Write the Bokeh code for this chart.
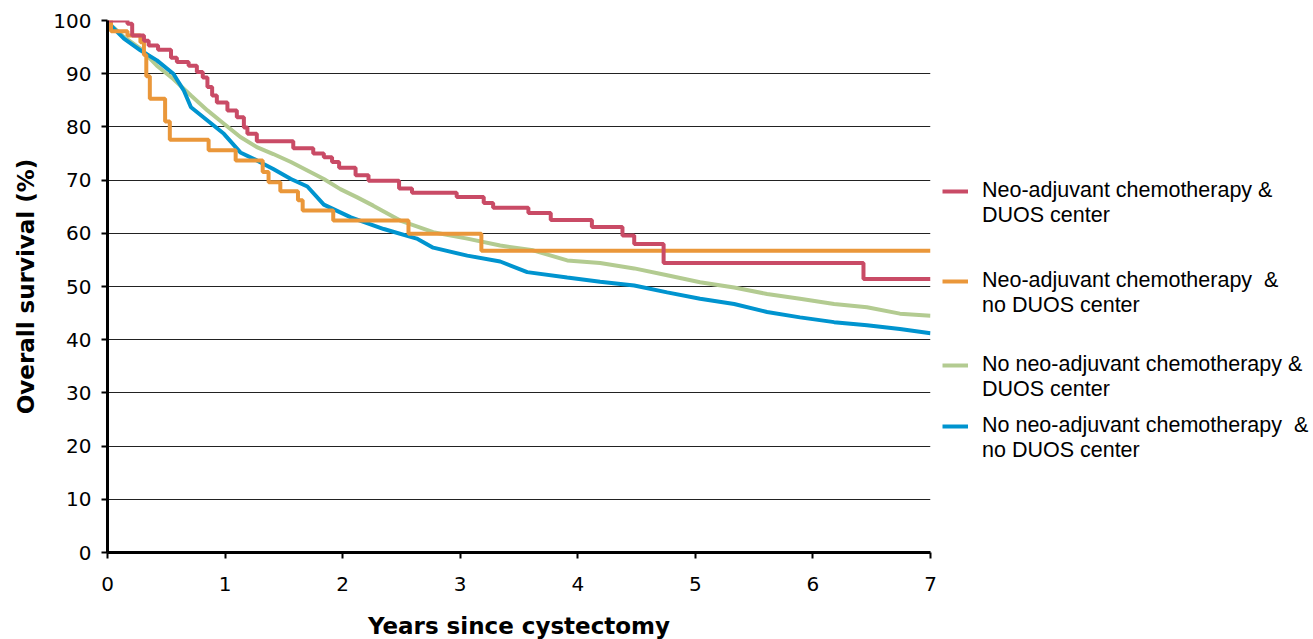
from bokeh.plotting import figure
from bokeh.layouts import row
from bokeh.models import Legend, LegendItem, Range1d, FixedTicker
from bokeh.embed import file_html
from bokeh.resources import INLINE

# ---------------- data ----------------
red_t = [0, 0.17, 0.21, 0.31, 0.35, 0.43, 0.54, 0.59, 0.69, 0.76, 0.81, 0.85, 0.89, 0.93,
         1.02, 1.10, 1.16, 1.19, 1.27, 1.58, 1.75, 1.84, 1.91, 1.97, 2.11, 2.22, 2.48, 2.59,
         2.97, 3.20, 3.28, 3.58, 3.77, 4.12, 4.38, 4.48, 4.73, 6.43, 7.0]
red_v = [100, 99.4, 97.2, 96.2, 95.3, 94.5, 93.0, 92.2, 91.5, 90.3, 89.3, 87.5, 85.9, 84.6,
         83.1, 81.8, 79.9, 78.7, 77.3, 76.0, 75.0, 74.3, 73.4, 72.3, 70.9, 69.9, 68.4, 67.6,
         66.8, 65.7, 64.8, 63.8, 62.5, 61.2, 59.6, 58.0, 54.4, 51.4, 51.4]

orange_t = [0, 0.03, 0.17, 0.28, 0.31, 0.33, 0.36, 0.49, 0.53, 0.86, 1.09, 1.32, 1.37, 1.47,
            1.62, 1.66, 1.92, 2.56, 3.18, 7.0]
orange_v = [100, 98.0, 97.2, 95.9, 93.5, 89.5, 85.3, 81.0, 77.6, 75.6, 73.7, 71.5, 69.6, 67.9,
            66.2, 64.3, 62.4, 59.9, 56.7, 56.7]

green_t = [0, 0.14, 0.28, 0.42, 0.56, 0.71, 0.85, 0.99, 1.13, 1.27, 1.41, 1.56, 1.70, 1.84,
           1.98, 2.12, 2.26, 2.49, 2.77, 3.06, 3.34, 3.62, 3.91, 4.19, 4.48, 4.76, 5.04, 5.33,
           5.61, 5.89, 6.18, 6.46, 6.74, 7.0]
green_v = [99.7, 96.9, 94.7, 91.5, 89.0, 85.9, 83.1, 80.6, 78.1, 76.2, 74.9, 73.4, 71.8, 70.2,
           68.3, 66.8, 65.2, 62.4, 60.2, 59.0, 57.7, 56.8, 54.9, 54.4, 53.4, 52.1, 50.8, 49.8,
           48.6, 47.7, 46.7, 46.1, 44.9, 44.5]

blue_t = [0, 0.14, 0.28, 0.42, 0.56, 0.65, 0.71, 0.85, 0.99, 1.13, 1.27, 1.41, 1.56, 1.70,
          1.84, 2.07, 2.35, 2.63, 2.77, 3.06, 3.34, 3.57, 3.91, 4.19, 4.48, 4.76, 5.04, 5.33,
          5.61, 5.89, 6.18, 6.46, 6.74, 7.0]
blue_v = [99.7, 96.6, 94.4, 92.5, 90.0, 86.8, 83.7, 81.2, 78.7, 75.2, 73.7, 72.1, 70.2, 68.8,
          65.4, 63.0, 60.8, 59.0, 57.3, 55.8, 54.7, 52.7, 51.7, 50.9, 50.2, 48.9, 47.7, 46.7,
          45.2, 44.2, 43.3, 42.7, 42.0, 41.2]

labels = [
    ["Neo-adjuvant chemotherapy &", "DUOS center"],
    ["Neo-adjuvant chemotherapy  &", "no DUOS center"],
    ["No neo-adjuvant chemotherapy &", "DUOS center"],
    ["No neo-adjuvant chemotherapy  &", "no DUOS center"],
]
colors = ["#C94B66", "#EA973A", "#B3CB91", "#0094CF"]

x_ticks = [0, 1, 2, 3, 4, 5, 6, 7]
y_ticks = [0, 10, 20, 30, 40, 50, 60, 70, 80, 90, 100]

series = [(red_t, red_v, "step"), (orange_t, orange_v, "step"),
          (green_t, green_v, "line"), (blue_t, blue_v, "line")]

# ---------------- main chart ----------------
p = figure(width=940, height=639, output_backend="svg", toolbar_location=None,
           x_range=Range1d(0, 7), y_range=Range1d(0, 100),
           min_border_left=107, min_border_right=10, min_border_top=20, min_border_bottom=87)
p.frame_width = 823
p.frame_height = 532
p.outline_line_color = None

p.xgrid.grid_line_color = None
p.ygrid.grid_line_color = "#222222"
p.ygrid.grid_line_width = 1
p.ygrid.ticker = FixedTicker(ticks=y_ticks)

for ax in (p.xaxis[0], p.yaxis[0]):
    ax.axis_line_width = 3
    ax.axis_line_color = "black"
    ax.major_tick_line_width = 2
    ax.major_tick_line_color = "black"
    ax.major_tick_out = 6
    ax.major_tick_in = 0
    ax.minor_tick_line_color = None
    ax.major_label_text_font = "DejaVu Sans"
    ax.major_label_text_font_size = "20px"
    ax.major_label_text_color = "black"
    ax.axis_label_text_font = "DejaVu Sans"
    ax.axis_label_text_font_size = "23px"
    ax.axis_label_text_font_style = "bold"
    ax.axis_label_text_color = "black"

p.xaxis.ticker = FixedTicker(ticks=x_ticks)
p.yaxis.ticker = FixedTicker(ticks=y_ticks)
p.xaxis.axis_label = "Years since cystectomy"
p.yaxis.axis_label = "Overall survival (%)"
p.xaxis.major_label_standoff = 18
p.yaxis.major_label_standoff = 10
p.xaxis.axis_label_standoff = 19
p.yaxis.axis_label_standoff = 11

lw = 4
draw_order = [2, 3, 1, 0]
for i in draw_order:
    t, v, kind = series[i]
    if kind == "step":
        p.step(t, v, mode="after", line_color=colors[i], line_width=lw)
    else:
        p.line(t, v, line_color=colors[i], line_width=lw)

# ---------------- legend panel ----------------
# same series, drawn outside this panel's view so only the legend shows
pl = figure(width=373, height=639, output_backend="svg", toolbar_location=None,
            x_range=Range1d(100, 101), y_range=Range1d(0, 100),
            min_border_left=0, min_border_right=0, min_border_top=0, min_border_bottom=0)
pl.axis.visible = False
pl.grid.visible = False
pl.outline_line_color = None

legend_y = [322, 232, 148, 87]
for i, (t, v, kind) in enumerate(series):
    if kind == "step":
        r = pl.step(t, v, mode="after", line_color=colors[i], line_width=lw)
        r2 = pl.step(t, v, mode="after", line_color=colors[i], line_alpha=0)
    else:
        r = pl.line(t, v, line_color=colors[i], line_width=lw)
        r2 = pl.line(t, v, line_color=colors[i], line_alpha=0)
    lg = Legend(items=[LegendItem(label=labels[i][0], renderers=[r]),
                       LegendItem(label=labels[i][1], renderers=[r2])],
                location=(2, legend_y[i]), spacing=0,
                border_line_alpha=0, background_fill_alpha=0, margin=0, padding=0,
                glyph_width=26, glyph_height=24, label_height=24, label_standoff=14,
                label_text_font="Liberation Sans", label_text_font_size="21.5px",
                label_text_color="black")
    pl.add_layout(lg, "center")

layout = row(p, pl)
open("out.html", "w").write(file_html(layout, INLINE))
